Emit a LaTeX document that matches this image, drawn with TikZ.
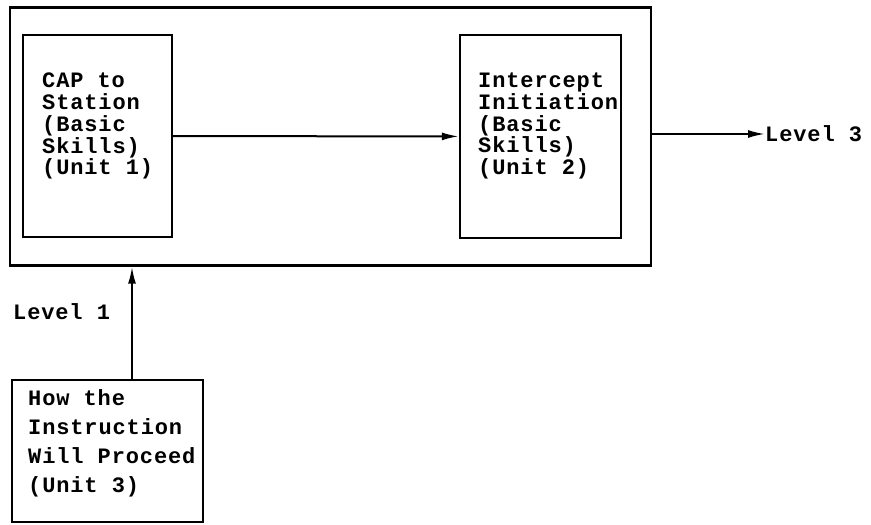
\documentclass[tikz,border=0pt]{standalone}
\usepackage{fontspec}
\newfontfamily\typew[LetterSpace=4]{Liberation Mono}
\usetikzlibrary{arrows.meta}
\begin{document}
\begin{tikzpicture}[x=1pt,y=1pt,
  frame/.style={draw=black, line width=2.4pt, inner sep=0pt},
  boxtext/.style={anchor=north west, inner sep=0pt, align=left,
    font=\fontsize{22pt}{21.7pt}\selectfont\typew\bfseries},
  boxtextwide/.style={boxtext, font=\fontsize{22pt}{29pt}\selectfont\typew\bfseries},
  lbl/.style={inner sep=0pt, font=\fontsize{22pt}{22pt}\selectfont\typew\bfseries},
  conn/.style={line width=2pt, -{Latex[length=17pt,width=8pt]}}]
\useasboundingbox (0,0) rectangle (871,-525);
% outer frame
\node[frame, minimum width=641pt, minimum height=258pt] (outer) at (330.5,-136.5) {};
% unit boxes
\node[frame, minimum width=149pt, minimum height=202pt] (b1) at (97.5,-136) {};
\node[frame, minimum width=161pt, minimum height=203pt] (b2) at (540.5,-136.5) {};
\node[frame, minimum width=191pt, minimum height=142pt] (b3) at (107.5,-451) {};
% texts
\node[boxtext] (t1) at (42,-73) {CAP to\\Station\\(Basic\\Skills)\\(Unit 1)};
\node[boxtext] (t2) at (478,-73) {Intercept\\Initiation\\(Basic\\Skills)\\(Unit 2)};
\node[boxtextwide] (t3) at (28,-389) {How the\\Instruction\\Will Proceed\\(Unit 3)};
\node[lbl, anchor=west] (l1) at (13,-312) {Level 1};
\node[lbl, anchor=west] (l3) at (765,-134) {Level 3};
% connectors
\coordinate (ax) at (132,0);
\draw[conn] (b1) -- (b2);
\draw[conn] (outer.east |- l3.west) -- (l3.west);
\draw[conn] (ax |- b3.north) -- (ax |- outer.south);
\end{tikzpicture}
\end{document}
